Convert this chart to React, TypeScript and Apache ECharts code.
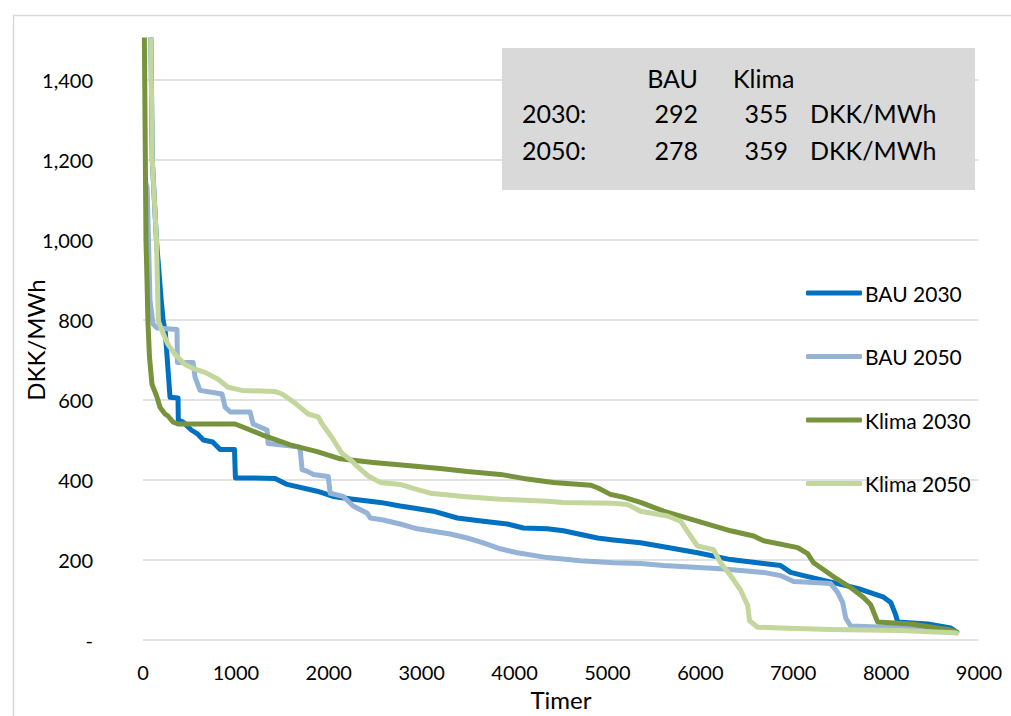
import React, { useEffect, useRef } from "react";
import * as echarts from "echarts";

// [hour, DKK/MWh] duration curves
const bau2030: [number, number][] = [
  [0, 2500], [85, 1500], [100, 1200], [145, 1000], [158, 960], [162, 950], [194, 855], [216, 800], [240, 770], [291, 607], [377, 605],
  [380, 550], [431, 545], [520, 525], [582, 516], [650, 500], [750, 495], [830, 476], [985, 476],
  [995, 405], [1200, 405], [1422, 404], [1552, 389], [1875, 372], [2047, 359], [2263, 352],
  [2554, 344], [2769, 335], [2909, 330], [3125, 322], [3384, 305], [3664, 297], [3922, 290],
  [4095, 280], [4354, 278], [4526, 273], [4892, 255], [5065, 250], [5356, 243], [5604, 233],
  [5970, 218], [6326, 201], [6681, 191], [6864, 186], [6972, 169], [7112, 161], [7694, 129],
  [7974, 107], [8050, 94], [8104, 62], [8125, 45], [8448, 40], [8696, 30], [8760, 20],
];

const bau2050: [number, number][] = [
  [35, 1140], [45, 1130], [75, 850], [108, 790], [151, 780], [366, 776], [370, 694], [539, 694],
  [560, 657], [614, 624], [851, 615], [884, 582], [940, 570], [1153, 570], [1185, 540],
  [1336, 525], [1347, 491], [1670, 483], [1692, 476], [1713, 426], [1778, 421], [1832, 414],
  [1994, 409], [2015, 367], [2155, 359], [2263, 335], [2414, 317], [2446, 305], [2586, 300],
  [2769, 290], [2953, 278], [3308, 265], [3491, 255], [3664, 243], [3847, 228], [4030, 218],
  [4354, 206], [4709, 198], [5065, 193], [5356, 191], [5604, 186], [6218, 178], [6681, 169],
  [6864, 161], [7004, 146], [7220, 144], [7403, 141], [7478, 119], [7532, 94], [7565, 55],
  [7618, 35], [8000, 32], [8500, 28], [8760, 20],
];

const klima2030: [number, number][] = [
  [0, 3000], [15, 1500], [32, 1000], [43, 900], [54, 790], [70, 706], [97, 639], [151, 607],
  [183, 582], [237, 565], [269, 560], [323, 545], [377, 540], [991, 540], [1067, 533],
  [1282, 513], [1584, 488], [1875, 471], [2123, 453], [2478, 444], [2845, 436], [3200, 429],
  [3491, 421], [3847, 414], [4095, 404], [4418, 394], [4817, 387], [4900, 380], [5032, 364],
  [5173, 357], [5356, 344], [5604, 322], [5970, 297], [6326, 273], [6573, 260], [6681, 248],
  [7048, 231], [7155, 216], [7220, 193], [7435, 158], [7618, 131], [7758, 106], [7834, 88],
  [7909, 45], [8265, 40], [8696, 25], [8760, 20],
];

const klima2050: [number, number][] = [
  [0, 2500], [85, 1500], [100, 1200], [145, 1000], [165, 798], [205, 773], [269, 739],
  [345, 714], [453, 689], [560, 677], [668, 669], [808, 652], [916, 632], [1067, 624],
  [1422, 621], [1498, 615], [1638, 592], [1778, 565], [1886, 558], [1929, 540], [2037, 505],
  [2144, 466], [2252, 447], [2306, 434], [2425, 410], [2554, 394], [2769, 389], [2909, 379],
  [3093, 367], [3448, 359], [3847, 352], [4354, 347], [4526, 344], [5065, 342], [5216, 339],
  [5356, 322], [5647, 310], [5787, 297], [5894, 260], [5970, 235], [6142, 226], [6218, 193],
  [6326, 161], [6433, 125], [6509, 87], [6530, 48], [6617, 32], [6864, 30], [7403, 26],
  [8158, 24], [8729, 18], [8760, 17],
];

const seriesNames = ["BAU 2030", "BAU 2050", "Klima 2030", "Klima 2050"];
const seriesColors = ["#0070C0", "#95B3D7", "#77933C", "#C3D69B"];
const seriesData = [bau2030, bau2050, klima2030, klima2050];

// summary table
const tableHeader = ["BAU", "Klima"];
const tableYears = ["2030:", "2050:"];
const tableBau = ["292", "278"];
const tableKlima = ["355", "359"];
const tableUnit = "DKK/MWh";

const FONT = "Lato, 'Noto Sans', sans-serif";

export default function App() {
  const ref = useRef<HTMLDivElement>(null);

  useEffect(() => {
    if (!ref.current) return;
    const chart = echarts.init(ref.current, undefined, { renderer: "svg" });

    const txt = (text: string, x: number, y: number, align: string) => ({
      type: "text",
      x,
      y,
      z: 110,
      style: {
        text,
        font: `25px ${FONT}`,
        fill: "#000",
        align,
        verticalAlign: "middle",
        textAlign: align,
        textVerticalAlign: "middle",
      },
    });

    const tableTexts: any[] = [
      txt(tableHeader[0], 698, 78, "right"),
      txt(tableHeader[1], 733, 78, "left"),
    ];
    const rowY = [113, 150];
    tableYears.forEach((yr, i) => {
      tableTexts.push(txt(yr, 522, rowY[i], "left"));
      tableTexts.push(txt(tableBau[i], 698, rowY[i], "right"));
      tableTexts.push(txt(tableKlima[i], 788, rowY[i], "right"));
      tableTexts.push(txt(tableUnit, 810, rowY[i], "left"));
    });

    chart.setOption({
      animation: false,
      textStyle: { fontFamily: FONT },
      grid: { left: 143, right: 32, top: 40, bottom: 71, containLabel: false },
      xAxis: {
        type: "value",
        min: 0,
        max: 9000,
        interval: 1000,
        name: "Timer",
        nameLocation: "middle",
        nameGap: 47,
        nameMoveOverlap: false,
        nameTextStyle: { fontSize: 24, color: "#000", fontFamily: FONT },
        axisLine: { show: false },
        axisTick: { show: false },
        splitLine: { show: false },
        axisLabel: {
          fontSize: 20,
          color: "#000",
          margin: 22,
          fontFamily: FONT,
          formatter: (v: number) => String(v),
        },
      },
      yAxis: {
        type: "value",
        min: 0,
        max: 1500,
        interval: 200,
        name: "DKK/MWh",
        nameLocation: "middle",
        nameGap: 96,
        nameRotate: 90,
        nameMoveOverlap: false,
        nameTextStyle: { fontSize: 24, color: "#000", fontFamily: FONT },
        axisLine: { show: false },
        axisTick: { show: false },
        splitLine: { show: true, showMaxLine: false, lineStyle: { color: "#d9d9d9", width: 1.5 } },
        axisLabel: {
          fontSize: 20,
          color: "#000",
          margin: 50,
          showMaxLabel: false,
          fontFamily: FONT,
          formatter: (v: number) => (v === 0 ? "-" : v > 1400 ? "" : v.toLocaleString("en-US")),
        },
      },
      legend: {
        orient: "vertical",
        left: 806,
        top: 281,
        padding: 0,
        itemWidth: 56,
        itemHeight: 5,
        itemGap: 39.5,
        icon: "roundRect",
        data: seriesNames,
        textStyle: { fontSize: 21, color: "#000", lineHeight: 24, padding: [0, 0, 0, -2], fontFamily: FONT },
      },
      series: seriesNames.map((name, i) => ({
        name,
        type: "line",
        data: seriesData[i],
        showSymbol: false,
        symbol: "none",
        clip: true,
        color: seriesColors[i],
        lineStyle: { color: seriesColors[i], width: 5, cap: "round", join: "round" },
        itemStyle: { color: seriesColors[i] },
      })),
      graphic: [
        {
          type: "rect",
          left: 11,
          top: 13,
          z: 100,
          shape: { x: 0, y: 0, width: 1015, height: 715 },
          style: { fill: "none", stroke: "#d9d9d9", lineWidth: 1.5 },
          silent: true,
        },
        {
          type: "rect",
          z: 100,
          shape: { x: 502, y: 48, width: 473, height: 142 },
          style: { fill: "#d9d9d9" },
          silent: true,
        },
        ...tableTexts,
      ],
    });

    return () => chart.dispose();
  }, []);

  return (
    <div
      ref={ref}
      style={{ position: "fixed", left: 0, top: 0, width: 1011, height: 716, background: "#fff" }}
    />
  );
}
